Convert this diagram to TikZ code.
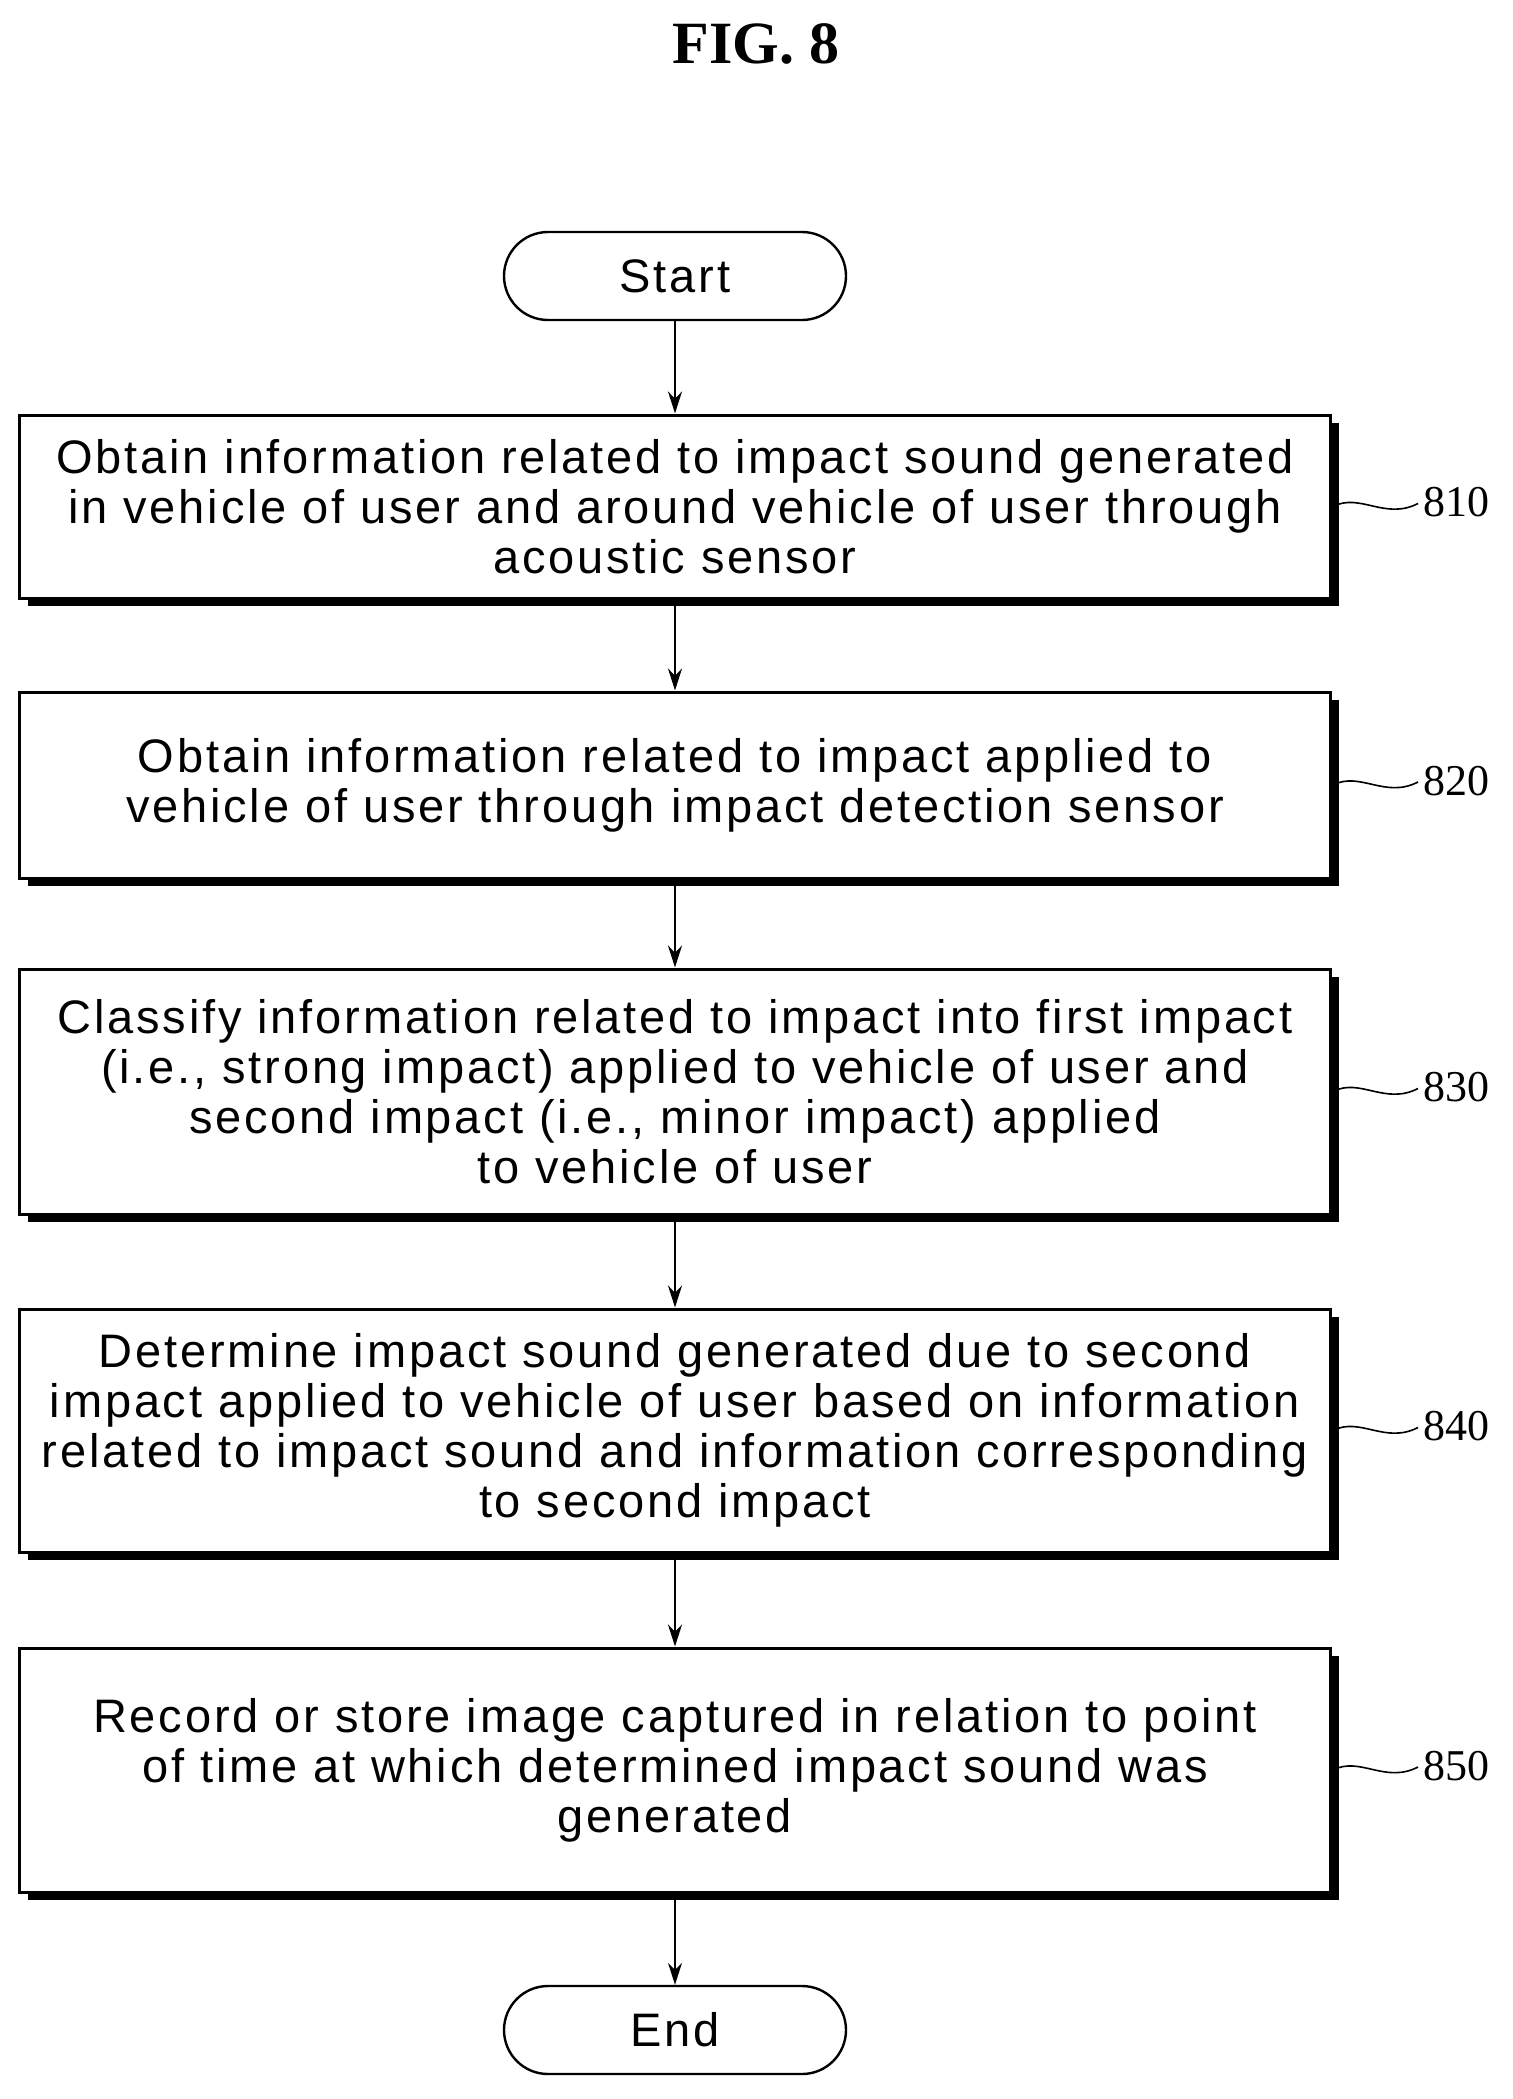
\documentclass[tikz,border=0pt]{standalone}
\usetikzlibrary{arrows.meta}
\usepackage{fontspec}
\setmainfont{Liberation Sans}[LetterSpace=6]
\newfontfamily\serifx{Liberation Serif}
\begin{document}
\begin{tikzpicture}[x=0.5pt,y=-0.5pt,
 box/.style={draw,line width=1.5pt,minimum width=655.5pt,align=center,font=\fontsize{23.5}{25}\selectfont,inner sep=0pt},
 term/.style={draw,line width=1.2pt,rounded corners=22pt,minimum width=171pt,minimum height=44pt,font=\fontsize{23.5}{25}\selectfont},
 arr/.style={-{Stealth[length=11pt,width=7pt]},line width=1pt},
 lab/.style={font=\serifx\fontsize{22}{25}\selectfont,anchor=west}]
\useasboundingbox (0,0) rectangle (1512,2099);
\node[font=\serifx\bfseries\fontsize{30}{34}\selectfont] (fig) at (756,44) {FIG. 8};
\node[term] (start) at (675,276) {Start};
\def\bx#1#2#3#4#5{%
 \fill (28,#3+8) rectangle (1339,#4+8);
 \node[box,fill=white,minimum height=#4*0.5pt-#3*0.5pt] (#1) at (675,#3/2+#4/2) {#5};
 \draw[line width=0.8pt] (1333,#3/2+#4/2) .. controls (1360,#3/2+#4/2-14) and (1385,#3/2+#4/2+14) .. (1418,#3/2+#4/2-3);
 \node[lab] (l#1) at (1416,#3/2+#4/2-4) {#2};}
\bx{b1}{810}{415}{598}{Obtain information related to impact sound generated\\in vehicle of user and around vehicle of user through\\acoustic sensor}
\bx{b2}{820}{692}{878}{Obtain information related to impact applied to\\vehicle of user through impact detection sensor}
\bx{b3}{830}{969}{1214}{Classify information related to impact into first impact\\(i.e., strong impact) applied to vehicle of user and\\second impact (i.e., minor impact) applied\\to vehicle of user}
\bx{b4}{840}{1309}{1552}{Determine impact sound generated due to second\\impact applied to vehicle of user based on information\\related to impact sound and information corresponding\\to second impact}
\bx{b5}{850}{1648}{1892}{Record or store image captured in relation to point\\of time at which determined impact sound was\\generated}
\node[term] (end) at (675,2030) {End};
\draw[arr] (start) -- (b1);
\draw[arr] (b1) -- (b2);
\draw[arr] (b2) -- (b3);
\draw[arr] (b3) -- (b4);
\draw[arr] (b4) -- (b5);
\draw[arr] (b5) -- (end);
\end{tikzpicture}
\end{document}
